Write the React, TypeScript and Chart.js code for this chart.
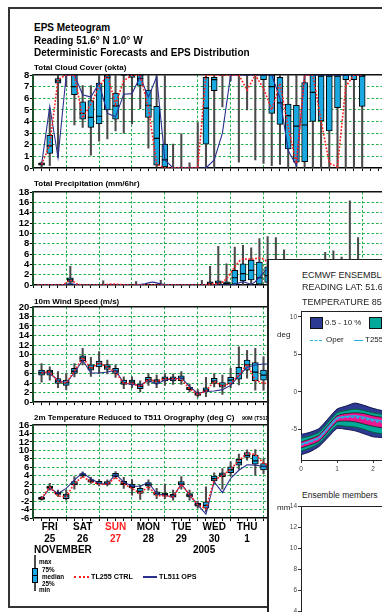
import React, { useEffect, useRef } from 'react';
import { Chart, registerables } from 'chart.js';

Chart.register(...registerables);

const FONT = "'Liberation Sans', Arial, Helvetica, sans-serif";
Chart.defaults.font.family = FONT;

// ---------------- data ----------------
// hours after Fri 25 Nov 2005 00 UTC
const stepHours = [6, 12, 18, 24, 30, 36, 42, 48, 54, 60, 66, 72, 78, 84, 90, 96, 102, 108, 114, 120, 126, 132, 138, 144, 150, 156, 162, 168, 174, 180, 186, 192, 198, 204, 210, 216, 222, 228, 234, 240];
const precipHours = [3, 9, 15, 21, 27, 33, 39, 45, 51, 57, 63, 69, 75, 81, 87, 93, 99, 105, 111, 117, 123, 129, 135, 141, 147, 153, 159, 165, 171, 177, 183, 189, 195, 201, 207, 213, 219, 225, 231, 237];

const dayNoonHours = [12, 36, 60, 84, 108, 132, 156, 180, 204, 228];
const dayNames = ['FRI', 'SAT', 'SUN', 'MON', 'TUE', 'WED', 'THU', 'FRI', 'SAT', 'SUN'];
const dayDates = ['25', '26', '27', '28', '29', '30', '1', '2', '3', '4'];

const cloudTicks = [0, 1, 2, 3, 4, 5, 6, 7, 8];
const precipTicks = [0, 2, 4, 6, 8, 10, 12, 14, 16, 18];
const windTicks = [0, 2, 4, 6, 8, 10, 12, 14, 16, 18, 20];
const tempTicks = [-6, -4, -2, 0, 2, 4, 6, 8, 10, 12, 14, 16];

const cloudMin = [0.1, 0.2, 0.9, 7.0, 3.7, 3.5, 1.1, 2.3, 2.5, 3.2, 3.0, 3.8, 5.1, 1.7, 0.1, 0, 0, 0, 0, 0, 0, 0, 5.25, 7.5, 0.5, 5.0, 0.7, 0.4, 0.2, 0.3, 0, 0, 0, 0, 0, 0, 0, 0, 0, 0];
const cloudQ1 = [0.25, 1.25, 7.3, 8, 6.3, 4.2, 3.5, 3.8, 5.0, 4.2, 8, 7.8, 7.1, 4.35, 0.25, 0.1, 0, 0, 0, 0, 2.05, 6.65, 8, 8, 8, 8, 8, 7.6, 4.7, 3.75, 1.65, 0.5, 0.55, 4.0, 4.05, 3.2, 5.2, 7.6, 7.6, 5.3];
const cloudMed = [0.35, 1.9, 7.5, 8, 7.0, 4.7, 4.35, 4.45, 7.8, 5.35, 8, 8, 7.7, 5.4, 2.55, 0.7, 0, 0, 0, 0, 5.15, 7.6, 8, 8, 8, 8, 8, 8, 7.0, 5.6, 4.5, 3.6, 3.7, 6.5, 7.9, 7.9, 7.9, 8, 8, 7.9];
const cloudQ3 = [0.45, 2.8, 7.7, 8, 8, 5.7, 5.8, 7.3, 8, 6.45, 8, 8, 8, 6.7, 5.3, 2.05, 0, 0, 0, 0, 7.8, 7.8, 8, 8, 8, 8, 8, 8, 8, 7.8, 5.5, 5.4, 7.35, 8, 8, 8, 8, 8, 8, 8];
const cloudMax = [0.5, 5.1, 8, 8, 8, 7.1, 7.1, 8, 8, 8, 8, 8, 8, 8, 8, 8, 2.05, 2.95, 0.45, 3.9, 8, 8, 8, 8, 8, 8, 8, 8, 8, 8, 8, 8, 8, 8, 8, 8, 8, 8, 8, 8];
const cloudCtrl = [0.3, 2.0, 7.6, 8, 8, 4.3, 5.5, 7.0, 8, 5.5, 7.5, 8, 8, 5.2, 0.3, 0, 0, 0, 0, 0, 8, 8, 8, 8, 8, 6.7, 8, 6.85, 5.0, 7.3, 3.5, 0.4, 8, 8, 4.1, 0.4, 0.1, 7.0, 8, 8];
const cloudOps = [0.3, 5.3, 0.9, 8, 8, 6.3, 6.1, 7.3, 4.7, 4.4, 6.35, 6.4, 7.85, 6.1, 7.85, 0.7, 0, 0, 0, 0, 0, 0.7, 3.0, 8, 8, 8, 8, 8, 8, 6.0, 1.5, 0.2, 8, 8, 8, 8, 8, 8, 8, 8];

const precipMin = [0, 0, 0, 0, 0, 0, 0, 0, 0, 0, 0, 0, 0, 0, 0, 0, 0, 0, 0, 0, 0, 0, 0, 0, 0, 0, 0, 0, 0, 0, 0, 0, 0, 0, 0, 0, 0, 0, 0, 0];
const precipQ1 = [0, 0, 0, 0, 0.55, 0, 0, 0, 0, 0, 0, 0, 0, 0, 0, 0, 0, 0, 0, 0, 0, 0.05, 0.05, 0.05, 0.15, 0.8, 1.0, 0.15, 0.5, 0.5, 0.3, 0.1, 0.1, 0.1, 0.2, 0.2, 0.2, 0.3, 0.3, 0.2];
const precipMed = [0, 0, 0, 0, 1.0, 0, 0, 0, 0, 0, 0, 0, 0, 0, 0, 0, 0, 0, 0, 0, 0, 0.3, 0.4, 0.3, 1.4, 2.2, 2.85, 1.4, 1.8, 1.6, 1.2, 0.6, 0.5, 0.4, 0.8, 0.9, 0.7, 1.2, 1.1, 0.6];
const precipQ3 = [0, 0, 0, 0, 1.4, 0, 0, 0, 0, 0, 0, 0, 0, 0, 0, 0, 0, 0, 0, 0, 0, 0.6, 0.8, 0.6, 2.85, 4.1, 4.8, 4.45, 3.5, 3.2, 2.6, 1.8, 1.5, 1.2, 2.0, 2.2, 1.8, 3.0, 2.8, 1.6];
const precipMax = [0, 0, 0, 0, 3.6, 0, 0, 0, 0.8, 0, 0, 0, 0.65, 0, 0, 0.9, 0, 0, 0, 0, 0.9, 3.6, 7.5, 4.1, 7.35, 7.7, 7.2, 9.0, 9.35, 9.2, 6.8, 4.5, 4.0, 3.8, 4.6, 6.3, 6.6, 5.4, 16.3, 9.2];
const precipCtrl = [0, 0, 0, 0, 0.9, 0.1, 0, 0, 0, 0.2, 0.1, 0, 0, 0, 0, 0, 0, 0, 0, 0, 0, 0.2, 0.3, 1.2, 3.5, 5.0, 5.0, 5.2, 4.5, 3.2, 2.2, 1.5, 1.0, 1.2, 2.0, 2.5, 2.0, 1.5, 1.0, 0.6];
const precipOps = [0, 0, 0, 0, 0.3, 0, 0, 0, 0, 0, 0, 0, 0, 0.2, 0.55, 0.2, 0, 0, 0, 0, 0, 0, 0, 0, 0.1, 0.6, 0.2, 1.5, 3.0, 2.5, 1.5, 1.0, 0.8, 1.0, 1.5, 1.2, 1.0, 0.8, 0.6, 0.4];

const windMin = [4.2, 4.6, 3.0, 2.6, 5.3, 7.8, 5.4, 6.0, 5.9, 5.2, 2.8, 3.0, 2.1, 3.5, 3.0, 3.5, 3.7, 3.7, 2.1, 1.0, 1.1, 3.2, 1.6, 3.0, 3.6, 5.0, 2.5, 2.5, 2.0];
const windQ1 = [5.65, 5.65, 3.9, 3.5, 6.0, 8.7, 6.7, 7.4, 6.85, 6.0, 3.7, 3.7, 2.8, 4.2, 3.9, 4.45, 4.45, 4.5, 2.6, 1.4, 2.2, 3.9, 3.1, 3.8, 4.8, 6.7, 4.5, 4.6, 4.0];
const windMed = [6.15, 6.35, 4.4, 4.1, 6.5, 9.25, 7.2, 8.1, 7.4, 6.5, 4.1, 4.2, 3.3, 4.7, 4.4, 4.95, 4.95, 5.0, 2.9, 1.7, 2.5, 4.4, 3.5, 4.6, 6.0, 7.8, 6.3, 5.65, 5.0];
const windQ3 = [6.7, 6.7, 4.95, 4.6, 7.07, 9.7, 7.8, 8.6, 7.9, 7.07, 4.6, 4.6, 3.75, 5.2, 4.7, 5.3, 5.3, 5.5, 3.1, 2.0, 3.0, 5.0, 4.1, 5.2, 7.3, 8.8, 8.3, 6.7, 6.0];
const windMax = [8.1, 7.4, 6.4, 6.0, 8.1, 11.3, 9.4, 10.6, 8.8, 7.8, 5.3, 5.3, 4.45, 6.0, 5.65, 6.0, 5.9, 6.4, 3.7, 2.6, 5.2, 6.0, 5.65, 7.07, 11.6, 10.9, 11.3, 9.5, 8.0];
const windCtrl = [6.1, 6.4, 4.3, 4.0, 6.5, 9.4, 7.0, 8.3, 7.3, 6.3, 3.9, 4.0, 3.2, 4.8, 4.3, 4.9, 4.9, 4.8, 2.8, 1.6, 2.3, 4.4, 3.3, 4.0, 5.6, 8.0, 4.6, 3.9, 4.0];
const windOps = [6.4, 6.0, 4.6, 4.0, 6.2, 8.8, 6.1, 6.1, 6.3, 6.7, 4.0, 3.7, 3.5, 4.6, 3.7, 4.7, 4.8, 5.1, 3.3, 1.8, 2.2, 2.3, 2.6, 3.5, 5.5, 7.3, 7.8, 8.0, 8.0];

const tempMin = [-1.8, 0.6, -0.9, -1.8, 0.8, 3.6, 2.2, 1.6, 1.6, 3.4, 1.0, -0.6, -1.6, 0.6, -1.4, -1.4, -1.8, 0.8, -1.8, -3.7, -4.5, 2.2, 0.8, 3.9, 5.5, 7.7, 4.15, 4.5, 4.0];
const tempQ1 = [-1.6, 1.0, -0.4, -1.4, 1.8, 3.9, 2.5, 2.0, 1.95, 3.75, 1.9, 1.2, -0.2, 1.55, -0.6, -0.8, -1.1, 1.8, -1.0, -3.2, -3.7, 2.8, 3.75, 4.7, 6.5, 8.35, 6.75, 5.35, 5.0];
const tempMed = [-1.4, 1.2, -0.2, -0.8, 2.0, 4.2, 2.8, 2.2, 2.2, 4.0, 2.2, 1.5, 0.3, 1.9, -0.2, -0.4, -0.8, 2.0, -0.6, -2.9, -3.0, 3.3, 4.2, 5.4, 7.1, 8.8, 7.5, 6.2, 5.8];
const tempQ3 = [-1.1, 1.55, 0.05, -0.35, 2.6, 4.5, 3.1, 2.65, 2.6, 4.55, 2.65, 2.0, 1.0, 2.35, 0.2, 0.0, -0.4, 2.6, -0.2, -2.55, -2.2, 3.9, 4.7, 6.1, 7.9, 9.45, 8.9, 6.9, 6.6];
const tempMax = [-0.9, 2.2, 0.6, 0.6, 3.8, 4.9, 3.6, 3.1, 3.0, 5.0, 3.6, 3.1, 1.8, 3.0, 1.0, 2.0, 0.6, 3.8, 0.6, -2.0, 1.4, 4.7, 5.7, 7.3, 9.1, 10.1, 10.2, 8.0, 7.8];
const tempCtrl = [-1.4, 1.3, -0.8, -1.0, 2.2, 3.8, 2.6, 2.0, 2.0, 3.6, 2.0, 1.0, -0.2, 1.5, -0.7, -0.7, -1.0, 2.0, -0.5, -2.9, -3.8, 3.0, 4.0, 5.5, 7.6, 9.3, 9.0, 7.0, 6.0];
const tempOps = [-1.5, 1.1, -0.2, 1.0, 3.0, 4.7, 3.3, 2.2, 2.0, 4.4, 2.5, 1.5, 1.5, 2.4, -0.2, -0.6, -1.1, 2.1, -0.6, -2.9, -5.1, 2.6, 0.0, 3.4, 5.3, 6.6, 6.5, 6.2, 6.0];

// ECMWF plume (T850) inset, days from start
const plumeDays = [0, 0.25, 0.5, 0.75, 1.0, 1.25, 1.5, 1.75, 2.0, 2.25, 2.5];
const plumeMax = [-5.7, -5.4, -4.9, -3.6, -2.3, -1.9, -1.5, -1.8, -2.2, -2.5, -2.6];
const plumeP90 = [-6.2, -5.9, -5.4, -4.1, -2.8, -2.5, -2.3, -2.5, -2.8, -3.0, -3.1];
const plumeP75 = [-6.7, -6.3, -5.8, -4.5, -3.2, -2.9, -2.8, -2.9, -3.2, -3.4, -3.5];
const plumeP25 = [-7.5, -7.1, -6.6, -5.3, -4.0, -3.9, -4.0, -4.3, -4.6, -4.8, -4.9];
const plumeP10 = [-7.9, -7.5, -6.9, -5.7, -4.5, -4.6, -4.7, -5.0, -5.4, -5.6, -5.6];
const plumeMin = [-8.4, -8.0, -7.3, -6.1, -4.9, -5.0, -5.2, -5.6, -6.0, -6.1, -6.1];
const plumeOper = [-7.1, -6.7, -6.2, -4.9, -3.6, -3.4, -3.4, -3.6, -3.9, -4.1, -4.2];
const plumeT255 = [-7.0, -6.6, -6.1, -4.8, -3.5, -3.3, -3.2, -3.4, -3.7, -3.9, -4.0];
const plumeTicks = [-5, 0, 5, 10];
const plumeXTicks = [0, 1, 2, 3, 4, 5, 6, 7, 8, 9, 10];
const membersTicks = [0, 2, 4, 6, 8, 10, 12, 14];

// ---------------- styles ----------------
const GREEN = '#22b04b';
const RED = '#ff2020';
const NAVY = '#2b2f8e';
const BOXBLUE = '#19a9e0';
const CLEAR = 'rgba(0,0,0,0)';

const CW = 420; // canvas width (clipped by the page)
const YW = 33.333; // y-axis width
const PX_PER_H = 33.333 / 24;
const XMAX = (CW - YW) / PX_PER_H;
const PADT = 7;
const PADB = 4;

const pts = (xs: number[], ys: number[]) => ys.map((v, i) => ({ x: xs[i], y: v }));
const rng = (xs: number[], lo: number[], hi: number[]) => lo.map((v, i) => ({ x: xs[i], y: [v, hi[i]] }));

type PanelSpec = {
  hours: number[];
  lineHours: number[];
  mn: number[]; q1: number[]; md: number[]; q3: number[]; mx: number[];
  ctrl: number[]; ops: number[];
  yMin: number; yMax: number; yTicks: number[];
  smooth?: boolean;
  labels?: boolean;
  xH: number;
};

function meteoConfig(p: PanelSpec): any {
  const n = p.mx.length;
  const hrs = p.hours.slice(0, n);
  const lh = p.lineHours.slice(0, p.ctrl.length);
  const lineCommon = {
    type: 'line', pointRadius: 0, fill: false,
    tension: p.smooth ? 0.4 : 0,
    cubicInterpolationMode: p.smooth ? 'monotone' : 'default',
  };
  return {
    type: 'bar',
    data: {
      datasets: [
        { ...lineCommon, data: pts(lh, p.ctrl), borderColor: RED, borderWidth: 1.6, borderDash: [1.8, 1.6], order: 0 },
        { ...lineCommon, data: pts(lh, p.ops), borderColor: NAVY, borderWidth: 1.1, order: 1 },
        {
          type: 'line', data: pts(hrs, p.md), showLine: false, pointStyle: 'line', pointRadius: 3,
          pointBorderColor: '#000', pointBorderWidth: 1.2, order: 2,
        },
        {
          type: 'bar', data: rng(hrs, p.q1, p.q3), barThickness: 6, backgroundColor: BOXBLUE,
          borderColor: '#000', borderWidth: 1, borderSkipped: false, grouped: false, order: 3,
        },
        {
          type: 'bar', data: rng(hrs, p.mn, p.mx), barThickness: 1.4, backgroundColor: '#4a4a4a',
          borderWidth: 0, grouped: false, order: 4,
        },
      ],
    },
    options: {
      responsive: false, animation: false, devicePixelRatio: 1, events: [],
      layout: { padding: { top: PADT, bottom: PADB, left: 0, right: 0 } },
      plugins: { legend: { display: false }, tooltip: { enabled: false } },
      scales: {
        x: {
          type: 'linear', min: 0, max: XMAX, offset: false,
          afterBuildTicks: (s: any) => {
            const t: any[] = [];
            for (let h = 0; h <= XMAX; h += 6) t.push({ value: h });
            s.ticks = t;
          },
          afterFit: (s: any) => { s.height = p.xH; },
          grid: {
            offset: false, lineWidth: 1, tickLength: 3, tickWidth: 1, tickColor: '#000',
            color: (c: any) => (c.tick && c.tick.value > 0 && c.tick.value % 24 === 0 ? GREEN : CLEAR),
          },
          border: { display: true, color: '#000', width: 1.5, dash: [2.5, 2] },
          ticks: {
            display: !!p.labels, autoSkip: false, maxRotation: 0, minRotation: 0, padding: 0,
            font: { size: 10, weight: 'bold', lineHeight: 1.2 },
            color: (c: any) => {
              const i = dayNoonHours.indexOf(c.tick ? c.tick.value : -1);
              return i >= 0 && dayNames[i] === 'SUN' ? RED : '#000';
            },
            callback: (v: any) => {
              const i = dayNoonHours.indexOf(Number(v));
              return i >= 0 ? [dayNames[i], dayDates[i]] : '';
            },
          },
        },
        xTop: {
          type: 'linear', position: 'top', min: 0, max: XMAX, offset: false,
          afterFit: (s: any) => { s.height = 0; },
          grid: { display: false, drawTicks: false },
          ticks: { display: false },
          border: { display: true, color: '#111', width: 1.5 },
        },
        y: {
          type: 'linear', min: p.yMin, max: p.yMax,
          afterBuildTicks: (s: any) => { s.ticks = p.yTicks.map((v) => ({ value: v })); },
          afterFit: (s: any) => { s.width = YW; },
          grid: {
            lineWidth: 1, tickLength: 3.5, tickWidth: 1, tickColor: '#000',
            color: (c: any) => (c.tick && c.tick.value > p.yMin && c.tick.value < p.yMax ? GREEN : CLEAR),
          },
          border: { display: true, color: '#1d4f2d', width: 2, dash: [2.5, 2] },
          ticks: { autoSkip: false, color: '#000', padding: 0.5, font: { size: 9.5, weight: 'bold' } },
        },
      },
    },
  };
}

function plumeConfig(): any {
  const L = { pointRadius: 0, tension: 0.2 };
  return {
    type: 'line',
    data: {
      datasets: [
        { ...L, data: pts(plumeDays, plumeMax), borderColor: '#141450', borderWidth: 1, backgroundColor: '#2d3a92', fill: 5, order: 10 },
        { ...L, data: pts(plumeDays, plumeP90), borderColor: '#0b5e3a', borderWidth: 1, backgroundColor: '#00a99a', fill: 4, order: 9 },
        { ...L, data: pts(plumeDays, plumeP75), borderColor: '#1a1a1a', borderWidth: 0.8, backgroundColor: '#f0158c', fill: 3, order: 8 },
        { ...L, data: pts(plumeDays, plumeP25), borderColor: '#1a1a1a', borderWidth: 0.8, fill: false, order: 7 },
        { ...L, data: pts(plumeDays, plumeP10), borderColor: '#0b5e3a', borderWidth: 1, fill: false, order: 6 },
        { ...L, data: pts(plumeDays, plumeMin), borderColor: '#141450', borderWidth: 1, fill: false, order: 5 },
        { ...L, data: pts(plumeDays, plumeOper), borderColor: '#25aee8', borderWidth: 1.6, borderDash: [3, 2], fill: false, order: 1 },
        { ...L, data: pts(plumeDays, plumeT255), borderColor: '#25aee8', borderWidth: 1.6, fill: false, order: 0 },
      ],
    },
    options: insetOptions(-9.1, 10.8, plumeTicks, true),
  };
}

function membersConfig(): any {
  return { type: 'line', data: { datasets: [] }, options: insetOptions(0, 14, membersTicks, false) };
}

function insetOptions(yMin: number, yMax: number, yTicks: number[], xLabels: boolean): any {
  const xmax = (CW - 34) / 36;
  return {
    responsive: false, animation: false, devicePixelRatio: 1, events: [],
    layout: { padding: { top: xLabels ? 11 : 6, bottom: 2, left: 0, right: 0 } },
    plugins: { legend: { display: false }, tooltip: { enabled: false } },
    scales: {
      x: {
        type: 'linear', min: 0, max: xmax,
        afterBuildTicks: (s: any) => { s.ticks = plumeXTicks.map((v) => ({ value: v })); },
        afterFit: (s: any) => { s.height = 14; },
        grid: { drawOnChartArea: false, tickLength: 3, tickColor: '#333', tickWidth: 1 },
        border: { color: '#222', width: 1 },
        ticks: { display: xLabels, padding: 2, color: '#444', font: { size: 6.5 }, maxRotation: 0, autoSkip: false },
      },
      xTop: {
        type: 'linear', position: 'top', min: 0, max: xmax,
        afterFit: (s: any) => { s.height = 0; },
        grid: { display: false, drawTicks: false }, ticks: { display: false },
        border: { display: true, color: '#222', width: 1 },
      },
      y: {
        type: 'linear', min: yMin, max: yMax,
        afterBuildTicks: (s: any) => { s.ticks = yTicks.map((v) => ({ value: v })); },
        afterFit: (s: any) => { s.width = 34; },
        grid: { drawOnChartArea: false, tickLength: 3, tickColor: '#333', tickWidth: 1 },
        border: { color: '#222', width: 1 },
        ticks: { autoSkip: false, padding: 1, color: '#444', font: { size: 6.5 } },
      },
    },
  };
}

// ---------------- components ----------------
function ChartBox({ left, top, width, height, build }: { left: number; top: number; width: number; height: number; build: () => any }) {
  const ref = useRef<HTMLCanvasElement>(null);
  useEffect(() => {
    const chart = new Chart(ref.current as HTMLCanvasElement, build());
    return () => chart.destroy();
  }, []);
  return <canvas ref={ref} width={width} height={height} style={{ position: 'absolute', left, top, width, height }} />;
}

function Txt({ x, cy, size, text, bold = true, color = '#000' }: { x: number; cy: number; size: number; text: string; bold?: boolean; color?: string }) {
  return (
    <div style={{
      position: 'absolute', left: x, top: cy - size * 0.5, fontSize: size, lineHeight: `${size}px`,
      fontWeight: bold ? 700 : 400, whiteSpace: 'nowrap', fontFamily: FONT, color,
    }}>{text}</div>
  );
}

const abs = (s: any) => <div style={{ position: 'absolute', ...s }} />;

export default function App() {
  const panels = [
    { plotTop: 75, plotH: 93, xH: 3, spec: { hours: stepHours, lineHours: stepHours, mn: cloudMin, q1: cloudQ1, md: cloudMed, q3: cloudQ3, mx: cloudMax, ctrl: cloudCtrl, ops: cloudOps, yMin: 0, yMax: 8, yTicks: cloudTicks } },
    { plotTop: 192, plotH: 93, xH: 3, spec: { hours: precipHours, lineHours: precipHours, mn: precipMin, q1: precipQ1, md: precipMed, q3: precipQ3, mx: precipMax, ctrl: precipCtrl, ops: precipOps, yMin: 0, yMax: 18, yTicks: precipTicks, smooth: true } },
    { plotTop: 307, plotH: 95, xH: 3, spec: { hours: stepHours, lineHours: stepHours, mn: windMin, q1: windQ1, md: windMed, q3: windQ3, mx: windMax, ctrl: windCtrl, ops: windOps, yMin: 0, yMax: 20, yTicks: windTicks } },
    { plotTop: 425, plotH: 93, xH: 27, spec: { hours: stepHours, lineHours: stepHours, mn: tempMin, q1: tempQ1, md: tempMed, q3: tempQ3, mx: tempMax, ctrl: tempCtrl, ops: tempOps, yMin: -6, yMax: 16, yTicks: tempTicks, labels: true } },
  ];
  return (
    <div style={{ position: 'fixed', left: 0, top: 0, width: 382, height: 612, overflow: 'hidden', background: '#fff', fontFamily: FONT }}>
      {abs({ left: 8, top: 7, width: 600, height: 601, border: '2px solid #333', boxSizing: 'border-box' })}

      {panels.map((pn, i) => (
        <ChartBox key={i} left={0} top={pn.plotTop - PADT} width={CW} height={PADT + pn.plotH + pn.xH + PADB}
          build={() => meteoConfig({ ...pn.spec, xH: pn.xH } as PanelSpec)} />
      ))}

      <Txt x={34} cy={28.3} size={10} text="EPS Meteogram" />
      <Txt x={34} cy={40.7} size={10} text="Reading 51.6° N 1.0° W" />
      <Txt x={34} cy={52.7} size={10} text="Deterministic Forecasts and EPS Distribution" />
      <Txt x={34} cy={67.7} size={8} text="Total Cloud Cover (okta)" />
      <Txt x={34} cy={184.3} size={8} text="Total Precipitation (mm/6hr)" />
      <Txt x={34} cy={302} size={8} text="10m Wind Speed (m/s)" />
      <Txt x={34} cy={417.7} size={8} text="2m Temperature Reduced to T511 Orography (deg C)" />
      <Txt x={242} cy={418.5} size={5.5} text="90M (T511)" />
      <Txt x={34} cy={550} size={10} text="NOVEMBER" />
      <Txt x={193} cy={550} size={10} text="2005" />

      {/* legend */}
      {abs({ left: 34.3, top: 555, width: 1.5, height: 36, background: '#4a4a4a' })}
      {abs({ left: 32, top: 568, width: 6, height: 15, background: BOXBLUE, border: '1px solid #000', boxSizing: 'border-box' })}
      {abs({ left: 32, top: 575.2, width: 6, height: 1.2, background: '#000' })}
      <Txt x={39} cy={562} size={6.3} text="max" />
      <Txt x={42} cy={570} size={6.3} text="75%" />
      <Txt x={42} cy={577} size={6.3} text="median" />
      <Txt x={42} cy={584} size={6.3} text="25%" />
      <Txt x={39} cy={590} size={6.3} text="min" />
      {abs({ left: 74, top: 576, width: 15, height: 0, borderTop: `2px dotted ${RED}` })}
      <Txt x={91} cy={576.7} size={7.2} text="TL255 CTRL" />
      {abs({ left: 143, top: 576, width: 14, height: 1.5, background: NAVY })}
      <Txt x={159} cy={576.7} size={7.2} text="TL511 OPS" />

      {/* overlapping ECMWF EPSgram inset */}
      {abs({ left: 267, top: 259, width: 400, height: 400, background: '#fff', borderLeft: '2px solid #222', borderTop: '1px solid #222', boxSizing: 'border-box' })}
      <ChartBox left={267} top={300} width={CW} height={176} build={plumeConfig} />
      <ChartBox left={267} top={500} width={CW} height={169} build={membersConfig} />
      <Txt x={302} cy={275} size={9} bold={false} color="#222" text="ECMWF ENSEMBLE FORECAST" />
      <Txt x={302} cy={287} size={9} bold={false} color="#222" text="READING  LAT: 51.6  LON: -1.0" />
      <Txt x={302} cy={302} size={9} bold={false} color="#222" text="TEMPERATURE 850 hPa" />
      <Txt x={277} cy={335} size={8} bold={false} color="#222" text="deg" />
      {abs({ left: 310, top: 317, width: 13, height: 12, background: '#2d3a92', border: '1px solid #111', boxSizing: 'border-box' })}
      <Txt x={325} cy={323} size={8} bold={false} color="#222" text="0.5 - 10 %" />
      {abs({ left: 369, top: 317, width: 13, height: 12, background: '#00a99a', border: '1px solid #111', boxSizing: 'border-box' })}
      {abs({ left: 310, top: 339.5, width: 12, height: 0, borderTop: '1.5px dashed #25aee8' })}
      <Txt x={326} cy={340} size={8} bold={false} color="#222" text="Oper" />
      {abs({ left: 354, top: 339.5, width: 9, height: 1.5, background: '#25aee8' })}
      <Txt x={365} cy={340} size={8} bold={false} color="#222" text="T255" />
      <Txt x={302} cy={495} size={8.5} bold={false} color="#222" text="Ensemble members" />
      <Txt x={277} cy={508} size={8} bold={false} color="#222" text="mm" />
    </div>
  );
}
